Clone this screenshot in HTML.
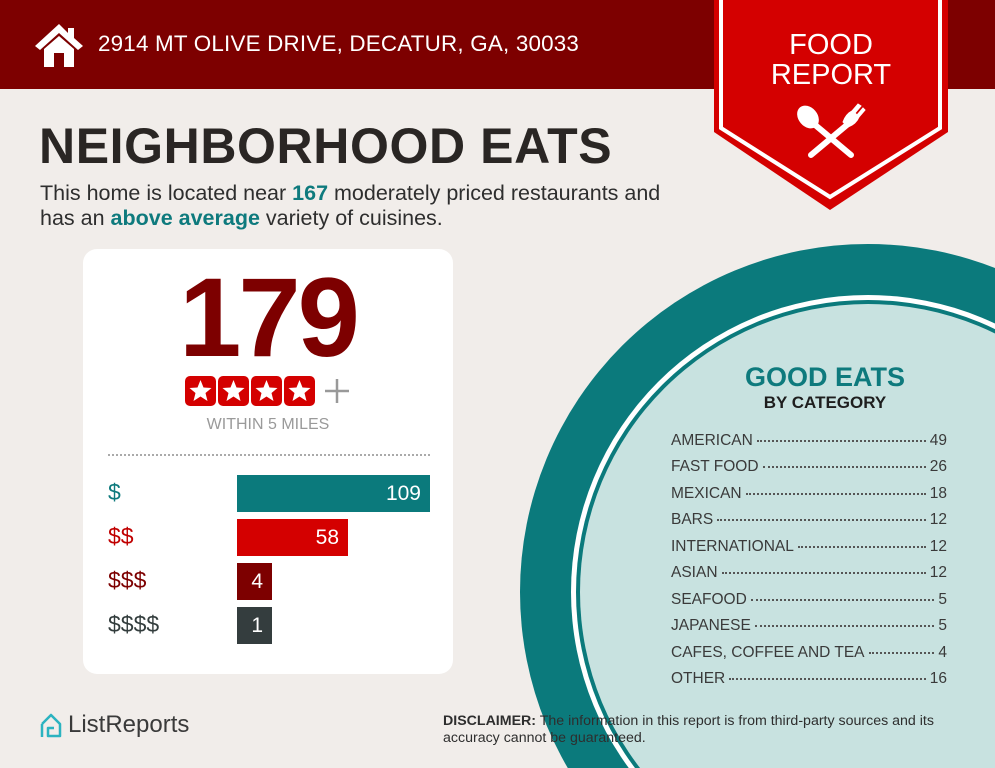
<!DOCTYPE html>
<html><head><meta charset="utf-8"><style>
*{margin:0;padding:0;box-sizing:border-box}
html,body{width:995px;height:768px;overflow:hidden}
body{background:#f1edea;font-family:"Liberation Sans",sans-serif;position:relative}
.abs{position:absolute}
.hdr{left:0;top:0;width:995px;height:89px;background:#7d0000}
.addr{left:98px;top:31px;color:#fff;font-size:22.4px;letter-spacing:0.2px}
h1{position:absolute;left:39px;top:117px;font-size:50px;font-weight:bold;color:#2a2624;letter-spacing:0.6px}
.sub{left:40px;top:181px;font-size:21.5px;color:#2e2e2e;line-height:25px}
.sub b{color:#0e7a7d}
.card{left:83px;top:249px;width:370px;height:425px;background:#fff;border-radius:14px}
.big{left:83px;width:370px;top:258px;text-align:center;font-size:112px;font-weight:bold;color:#7d0000;letter-spacing:-3px;line-height:120px}
.within{left:83px;width:370px;top:416px;text-align:center;font-size:16px;color:#9a9a9a}
.dash{left:108px;top:454px;width:322px;border-top:2px dotted #aaa}
.lbl{left:108px;font-size:23px}
.bar{left:237px;height:37px;color:#fff;font-size:21px;text-align:right;padding-right:9px;line-height:37px}
.cat{left:671px;width:276px;font-size:15.5px;color:#3a3a3a;display:flex;height:20px;line-height:20px}
.cat .d{flex:1;border-bottom:2px dotted #555;margin:0 4px 5px;height:11px}
.disc{left:443px;top:713px;font-size:14.2px;color:#2e2e2e;line-height:17px;width:545px}
</style></head><body>
<div class="abs hdr"></div>
<svg class="abs" style="left:34px;top:22px" width="50" height="46" viewBox="0 0 50 46">
<polygon points="25,2 1,24 6,28 25,11 44,28 49,24 40,16 40,6 34,6 34,11" fill="#fff"/>
<path d="M10 27 L25 14 L40 27 L40 45 L30 45 L30 31 L20 31 L20 45 L10 45Z" fill="#fff"/>
</svg>
<div class="abs addr">2914 MT OLIVE DRIVE, DECATUR, GA, 30033</div>
<svg class="abs" style="left:0;top:0" width="995" height="768">
<polygon points="714,0 948,0 948,132 830,210 714,132" fill="#d40000"/>
<polyline points="721,0 721,128 830,197 940,128 940,0" fill="none" stroke="#fff" stroke-width="4"/>
<g stroke="#fff" stroke-linecap="round" fill="#fff">
<line x1="814" y1="124" x2="851" y2="155" stroke-width="6"/>
<ellipse cx="808" cy="117" rx="9" ry="12" transform="rotate(-40 808 117)"/>
<line x1="848" y1="124" x2="811" y2="155" stroke-width="6"/>
<path d="M843 122 Q846 114 852 111 L858 104 L861 106 L855 113 L857 115 L863 108 L865 110 L859 117 Q856 124 848 127Z" stroke-width="1"/>
</g>
<circle cx="868" cy="592" r="348" fill="#0b7a7c"/>
<circle cx="868" cy="592" r="297" fill="#fff"/>
<circle cx="868" cy="592" r="292" fill="#0b7a7c"/>
<circle cx="868" cy="592" r="288" fill="#c8e2e0"/>
</svg>
<div class="abs" style="left:714px;top:30px;width:234px;text-align:center;color:#fff;font-size:29px;line-height:30px">FOOD<br>REPORT</div>
<h1>NEIGHBORHOOD EATS</h1>
<div class="abs sub">This home is located near <b>167</b> moderately priced restaurants and<br>has an <b>above average</b> variety of cuisines.</div>
<div class="abs card"></div>
<div class="abs big">179</div>
<svg class="abs" style="left:185px;top:375px" width="170" height="32">
<g fill="#d40000"><rect x="0" y="1" width="31" height="30" rx="5"/><rect x="33" y="1" width="31" height="30" rx="5"/><rect x="66" y="1" width="31" height="30" rx="5"/><rect x="99" y="1" width="31" height="30" rx="5"/></g>
<g fill="#fff">
<polygon id="s" points="15.5,5 18.5,12.5 26.5,13 20.5,18 22.5,26 15.5,21.5 8.5,26 10.5,18 4.5,13 12.5,12.5"/>
<use href="#s" x="33"/><use href="#s" x="66"/><use href="#s" x="99"/></g>
<path d="M152 4 V28 M140 16 H164" stroke="#999" stroke-width="2.5"/>
</svg>
<div class="abs within">WITHIN 5 MILES</div>
<div class="abs dash"></div>
<div class="abs lbl" style="top:479px;color:#0e7a7d">$</div>
<div class="abs lbl" style="top:523px;color:#c00000">$$</div>
<div class="abs lbl" style="top:567px;color:#7d0000">$$$</div>
<div class="abs lbl" style="top:611px;color:#333d3d">$$$$</div>
<div class="abs bar" style="top:475px;width:193px;background:#0b7a7c">109</div>
<div class="abs bar" style="top:519px;width:111px;background:#d40000">58</div>
<div class="abs bar" style="top:563px;width:35px;background:#7d0000">4</div>
<div class="abs bar" style="top:607px;width:35px;background:#343d3e">1</div>
<div class="abs" style="left:700px;top:362px;width:250px;text-align:center;font-size:27px;font-weight:bold;color:#0e7a7d">GOOD EATS</div>
<div class="abs" style="left:700px;top:393px;width:250px;text-align:center;font-size:17px;font-weight:bold;color:#1e1e1e">BY CATEGORY</div>
<div class="abs cat" style="top:431px"><span>AMERICAN</span><span class="d"></span><span>49</span></div>
<div class="abs cat" style="top:457px"><span>FAST FOOD</span><span class="d"></span><span>26</span></div>
<div class="abs cat" style="top:484px"><span>MEXICAN</span><span class="d"></span><span>18</span></div>
<div class="abs cat" style="top:510px"><span>BARS</span><span class="d"></span><span>12</span></div>
<div class="abs cat" style="top:537px"><span>INTERNATIONAL</span><span class="d"></span><span>12</span></div>
<div class="abs cat" style="top:563px"><span>ASIAN</span><span class="d"></span><span>12</span></div>
<div class="abs cat" style="top:590px"><span>SEAFOOD</span><span class="d"></span><span>5</span></div>
<div class="abs cat" style="top:616px"><span>JAPANESE</span><span class="d"></span><span>5</span></div>
<div class="abs cat" style="top:643px"><span>CAFES, COFFEE AND TEA</span><span class="d"></span><span>4</span></div>
<div class="abs cat" style="top:669px"><span>OTHER</span><span class="d"></span><span>16</span></div>
<svg class="abs" style="left:38px;top:712px" width="26" height="28" viewBox="0 0 26 28">
<path d="M4 12 L13 3 L22 12 L22 24 L10 24 L10 16 L16 16" fill="none" stroke="#2bb3c0" stroke-width="2.5" stroke-linejoin="round"/>
<path d="M4 12 V25" stroke="#2bb3c0" stroke-width="2.5"/>
</svg>
<div class="abs" style="left:68px;top:711px;font-size:24px;color:#3a3a3a">ListReports</div>
<div class="abs disc"><b>DISCLAIMER:</b> The information in this report is from third-party sources and its<br>accuracy cannot be guaranteed.</div>
</body></html>
